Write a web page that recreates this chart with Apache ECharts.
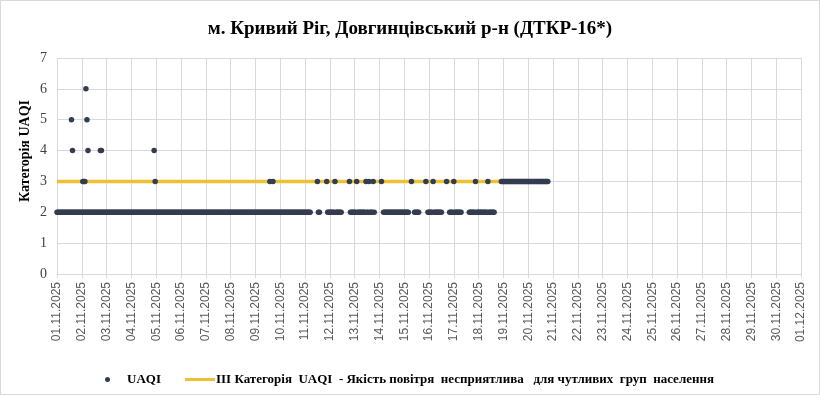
<!DOCTYPE html>
<html>
<head>
<meta charset="utf-8">
<script src="https://cdn.jsdelivr.net/npm/echarts@6/dist/echarts.min.js"></script>
<style>
html,body{margin:0;padding:0;background:#fff;}
#c{width:818px;height:393px;border:1px solid #d9d9d9;}
</style>
</head>
<body>
<div id="c"></div>
<script>
// Title / labels
const chartTitle = 'м. Кривий Ріг, Довгинцівський р-н (ДТКР-16*)';
const yAxisTitle = 'Категорія UAQI';
const seriesName = 'UAQI';
const thresholdName = 'ІІІ Категорія  UAQI  - Якість повітря  несприятлива   для чутливих  груп  населення';

// X tick labels (one per day, hour index = day*24)
const dateLabels = ['01.11.2025','02.11.2025','03.11.2025','04.11.2025','05.11.2025','06.11.2025','07.11.2025','08.11.2025','09.11.2025','10.11.2025','11.11.2025','12.11.2025','13.11.2025','14.11.2025','15.11.2025','16.11.2025','17.11.2025','18.11.2025','19.11.2025','20.11.2025','21.11.2025','22.11.2025','23.11.2025','24.11.2025','25.11.2025','26.11.2025','27.11.2025','28.11.2025','29.11.2025','30.11.2025','01.12.2025'];

// Hourly UAQI values from 01.11.2025 00:00, stored as runs (value, number of hours); null = no data
const uaqiRunValues = [2,null,3,2,null,3,2,3,2,null,3,2,3,2,3,2,3,2,3,2,null,3,null,2,null,3,null,2,null,3,null,2,3,2,null,3,null,2,3,2,null,2,3,2,3,2,null,3];
const uaqiRunHours  = [246,6,1,2,6,1,7,1,6,7,1,6,1,8,1,2,1,3,1,1,6,1,1,25,2,1,2,5,6,1,1,5,1,8,4,1,2,4,1,7,7,6,1,11,1,6,6,46];

// Additional readings above the baseline (hour index, category)
const extraHours  = [14,15,25,26,27,28,29,30,42,43,94,95,206,209];
const extraValues = [5, 4, 3, 3, 3, 6, 5, 4, 4, 4, 4, 3, 3, 3];

// Threshold line (category III)
const thresholdValue = 3;
const thresholdHours = [0, 476];

// Expand runs into [hour, value] points
const uaqiData = [];
let h = 0;
for (let i = 0; i < uaqiRunValues.length; i++) {
  for (let k = 0; k < uaqiRunHours[i]; k++) {
    if (uaqiRunValues[i] !== null) uaqiData.push([h, uaqiRunValues[i]]);
    h++;
  }
}
extraHours.forEach((x, i) => uaqiData.push([x, extraValues[i]]));
const thresholdData = thresholdHours.map(x => [x, thresholdValue]);

const chart = echarts.init(document.getElementById('c'), null, {renderer:'canvas'});
const serif = '"Liberation Serif","Times New Roman",serif';
const sans = '"Liberation Sans",Arial,sans-serif';
chart.setOption({
  animation: false,
  backgroundColor: '#fff',
  title: {
    text: chartTitle, left: 'center', top: 14,
    textStyle: {fontFamily: serif, fontSize: 19, fontWeight: 'bold', color: '#000'}
  },
  legend: [
    {
      data: [seriesName], left: 99, top: 367, icon: 'circle',
      itemWidth: 5, itemHeight: 5, itemGap: 10,
      textStyle: {fontFamily: serif, fontSize: 13, fontWeight: 'bold', color: '#000', padding:[0,0,0,12]}
    },
    {
      data: [thresholdName], left: 179, top: 367, icon: 'rect',
      itemWidth: 30, itemHeight: 3, itemGap: 2,
      textStyle: {fontFamily: serif, fontSize: 13, fontWeight: 'bold', color: '#000', padding:[0,0,0,-4]}
    }
  ],
  graphic: [{
    type: 'text', x: 24, y: 150, rotation: Math.PI / 2,
    style: {text: yAxisTitle, fontFamily: serif, fontSize: 14, fontWeight: 'bold', fill: '#000', align: 'center', verticalAlign: 'middle'}
  }],
  grid: {left: 56, right: 18, top: 57, bottom: 120, containLabel: false},
  xAxis: {
    type: 'value', min: 0, max: 720, interval: 24,
    axisLine: {show: true, lineStyle: {color: '#d9d9d9'}},
    axisTick: {show: true, length: 4, lineStyle: {color: '#d9d9d9'}},
    splitLine: {show: true, lineStyle: {color: '#d9d9d9', width: 1}},
    axisLabel: {
      rotate: 90, margin: 8, color: '#595959', fontFamily: sans, fontSize: 12,
      formatter: v => dateLabels[Math.round(v / 24)] || ''
    }
  },
  yAxis: {
    type: 'value', min: 0, max: 7, interval: 1,
    axisLine: {show: false}, axisTick: {show: false},
    splitLine: {show: true, lineStyle: {color: '#d9d9d9', width: 1}},
    axisLabel: {color: '#404040', fontFamily: serif, fontSize: 14, margin: 10}
  },
  series: [
    {
      name: thresholdName, type: 'line', data: thresholdData, z: 2,
      symbol: 'none', lineStyle: {color: '#edc132', width: 3.5}, itemStyle: {color: '#edc132'}
    },
    {
      name: seriesName, type: 'scatter', data: uaqiData, z: 3,
      symbol: 'circle', symbolSize: 5.5, itemStyle: {color: '#333d4f', opacity: 1}
    }
  ]
});
</script>
</body>
</html>
